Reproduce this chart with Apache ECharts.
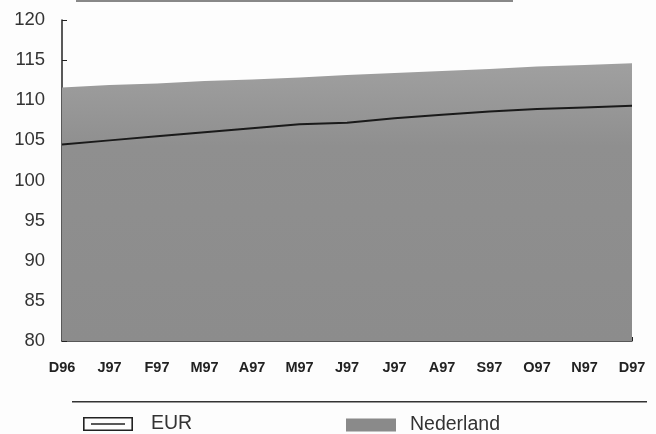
<!DOCTYPE html>
<html>
<head>
<meta charset="utf-8">
<script src="https://cdn.jsdelivr.net/npm/echarts@6/dist/echarts.min.js"></script>
<style>
html,body{margin:0;padding:0;background:#fdfdfd;}
#c{width:656px;height:434px;}
</style>
</head>
<body>
<div id="c"></div>
<script>
var categories = ['D96','J97','F97','M97','A97','M97','J97','J97','A97','S97','O97','N97','D97'];
var nederland = [111.6, 111.9, 112.1, 112.4, 112.6, 112.85, 113.15, 113.4, 113.65, 113.9, 114.2, 114.4, 114.6];
var eur = [104.5, 105.0, 105.5, 106.0, 106.5, 107.0, 107.2, 107.75, 108.2, 108.6, 108.9, 109.1, 109.3];
var yTicks = {min: 80, max: 120, interval: 5};

var FONT = 'Liberation Sans, Arial, sans-serif';
var chart = echarts.init(document.getElementById('c'), null, {renderer: 'canvas'});
chart.setOption({
  backgroundColor: '#fdfdfd',
  animation: false,
  grid: {left: 62, right: 24, top: 20, bottom: 93},
  xAxis: {
    type: 'category',
    data: categories,
    boundaryGap: false,
    axisLine: {lineStyle: {color: '#222', width: 1.5}},
    axisTick: {inside: true, length: 4, lineStyle: {color: '#222'}},
    axisLabel: {margin: 19, fontFamily: FONT, fontWeight: 'bold', fontSize: 14.5, color: '#222'},
    splitLine: {show: false}
  },
  yAxis: {
    type: 'value',
    min: yTicks.min, max: yTicks.max, interval: yTicks.interval,
    axisLine: {show: true, lineStyle: {color: '#222', width: 1.5}},
    axisTick: {show: true, inside: true, length: 5, lineStyle: {color: '#222'}},
    axisLabel: {margin: 17, fontFamily: FONT, fontSize: 18.5, color: '#333'},
    splitLine: {show: false}
  },
  legend: [
    {
      left: 83, top: 414, padding: 0,
      itemWidth: 50, itemHeight: 14,
      textStyle: {fontFamily: FONT, fontSize: 19.5, color: '#333', padding: [0,0,0,13]},
      data: [{name: 'EUR', icon: 'path://M0,0H50V14H0Z M1.6,1.6V12.4H48.4V1.6Z M8,6.2H42V7.8H8Z', itemStyle: {color: '#222', borderWidth: 0}}]
    },
    {
      left: 346, top: 415, padding: 0,
      itemWidth: 50, itemHeight: 13,
      textStyle: {fontFamily: FONT, fontSize: 19.5, color: '#333', padding: [0,0,0,9]},
      data: [{name: 'Nederland', icon: 'rect', itemStyle: {color: '#8a8a8a', borderWidth: 0}}]
    }
  ],
  graphic: [
    {type: 'rect', shape: {x: 72, y: 401, width: 575, height: 1.5}, style: {fill: '#333'}, silent: true},
    {type: 'rect', shape: {x: 76, y: 0, width: 437, height: 2}, style: {fill: '#888'}, silent: true}
  ],
  series: [
    {
      name: 'Nederland',
      type: 'line',
      data: nederland,
      symbol: 'none',
      lineStyle: {width: 0},
      itemStyle: {color: '#8a8a8a'},
      areaStyle: {
        origin: 'start',
        opacity: 1,
        color: {type: 'linear', x: 0, y: 0, x2: 0, y2: 1, colorStops: [
          {offset: 0, color: '#a0a0a0'},
          {offset: 0.3, color: '#8f8f8f'},
          {offset: 1, color: '#8c8c8c'}
        ]}
      },
      z: 1
    },
    {
      name: 'EUR',
      type: 'line',
      data: eur,
      symbol: 'none',
      lineStyle: {color: '#1a1a1a', width: 2},
      itemStyle: {color: '#1a1a1a'},
      z: 3
    }
  ]
});
</script>
</body>
</html>
